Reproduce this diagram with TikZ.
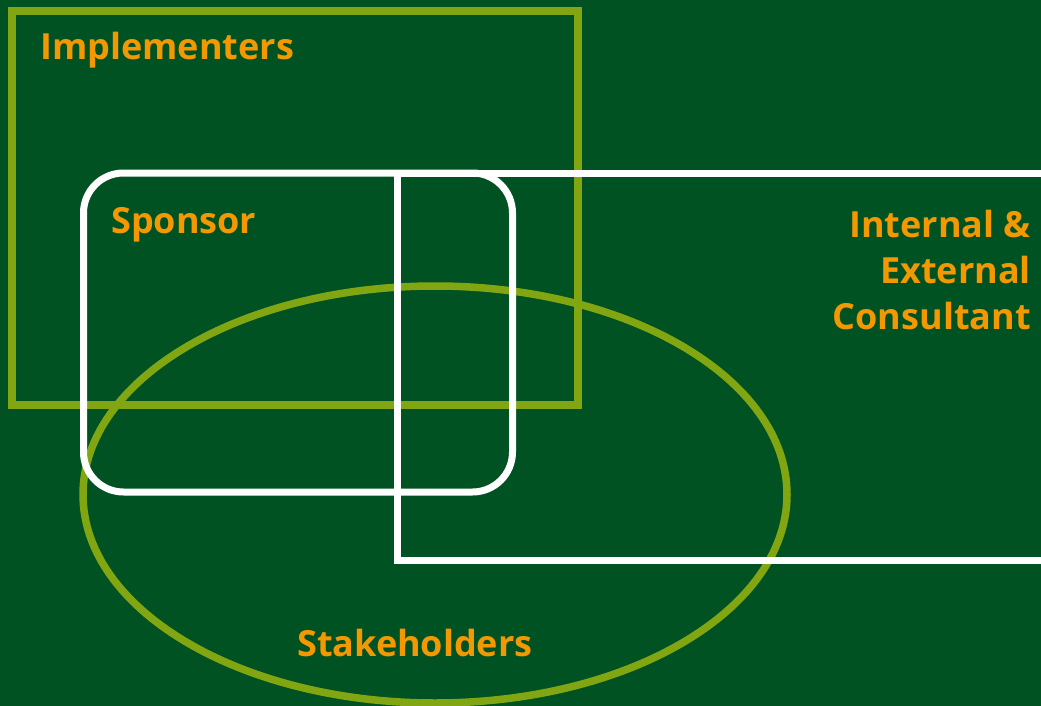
\documentclass[tikz,border=0pt]{standalone}
\usepackage{fontspec}
\setmainfont{Open Sans}
\definecolor{bggreen}{RGB}{0,82,35}
\definecolor{lime}{RGB}{130,166,18}
\definecolor{labelorange}{RGB}{243,152,0}
\begin{document}
\begin{tikzpicture}[x=1pt,y=-1pt,
  limeline/.style={draw=lime,line width=8pt},
  whiteline/.style={draw=white,line width=7pt},
  grouplabel/.style={text=labelorange,font=\bfseries\fontsize{36}{46}\selectfont,inner sep=0pt}]
  % canvas
  \fill[bggreen] (0,0) rectangle (1041,706);
  \useasboundingbox (0,0) rectangle (1041,706);
  \begin{scope}
    \clip (0,0) rectangle (1041,706);
    % implementers frame and stakeholders ellipse
    \draw[limeline] (12,11) rectangle (578,405);
    \draw[limeline,line width=7.5pt] (435,494.5) ellipse [x radius=352, y radius=208.5];
    % consultant frame, open past the right border
    \draw[whiteline] (1060,173) -- (397.5,173) -- (397.5,560) -- (1060,560);
    % sponsor frame
    \draw[whiteline,rounded corners=40pt] (83.5,173) rectangle (512.5,492);
  \end{scope}
  % labels
  \node[grouplabel,anchor=base west] (impl) at (40,60) {Implementers};
  \node[grouplabel,anchor=base west] (spons) at (111,233) {Sponsor};
  \node[grouplabel,anchor=north east,align=right] (cons) at (1031,210)
    {Internal \&\\External\\Consultant};
  \node[grouplabel,anchor=base west] (stake) at (297,656) {Stakeholders};
\end{tikzpicture}
\end{document}
